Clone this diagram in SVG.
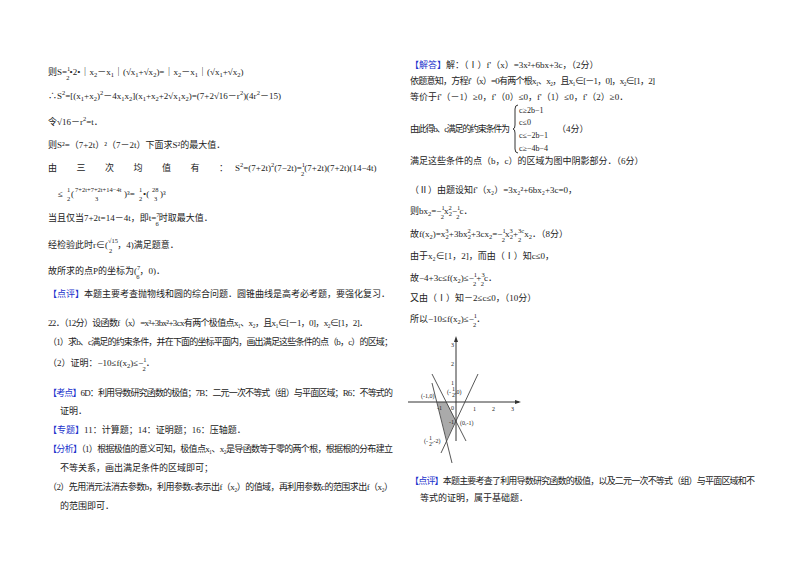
<svg xmlns="http://www.w3.org/2000/svg" width="800" height="565" viewBox="0 0 800 565">
<style>
text{font-family:"Liberation Serif","Noto Sans CJK SC",serif;font-size:9px;fill:#222}
.b{fill:#2233cc}
.s{font-size:6.5px}
.ax{stroke:#333;stroke-width:1;fill:none}
.ln{stroke:#444;stroke-width:0.9}
.g{font-size:6px}
.c{font-size:8px}
</style>
<rect width="800" height="565" fill="#fff"/>
<g id="left">
<text x="48" y="75">则S=<tspan class="s" dy="-4">1</tspan><tspan class="s" dx="-4" dy="9">2</tspan><tspan dy="-5">•2•｜x</tspan><tspan class="s" dy="2">2</tspan><tspan dy="-2">－x</tspan><tspan class="s" dy="2">1</tspan><tspan dy="-2">｜(√x</tspan><tspan class="s" dy="2">1</tspan><tspan dy="-2">+√x</tspan><tspan class="s" dy="2">2</tspan><tspan dy="-2">)=｜x</tspan><tspan class="s" dy="2">2</tspan><tspan dy="-2">－x</tspan><tspan class="s" dy="2">1</tspan><tspan dy="-2">｜(√x</tspan><tspan class="s" dy="2">1</tspan><tspan dy="-2">+√x</tspan><tspan class="s" dy="2">2</tspan><tspan dy="-2">)</tspan></text>
<text x="48" y="99">∴S<tspan class="s" dy="-4">2</tspan><tspan dy="4">=[(x</tspan><tspan class="s" dy="2">1</tspan><tspan dy="-2">+x</tspan><tspan class="s" dy="2">2</tspan><tspan dy="-2">)</tspan><tspan class="s" dy="-4">2</tspan><tspan dy="4">－4x</tspan><tspan class="s" dy="2">1</tspan><tspan dy="-2">x</tspan><tspan class="s" dy="2">2</tspan><tspan dy="-2">](x</tspan><tspan class="s" dy="2">1</tspan><tspan dy="-2">+x</tspan><tspan class="s" dy="2">2</tspan><tspan dy="-2">+2√x</tspan><tspan class="s" dy="2">1</tspan><tspan dy="-2">x</tspan><tspan class="s" dy="2">2</tspan><tspan dy="-2">)=(7+2√16－r</tspan><tspan class="s" dy="-4">2</tspan><tspan dy="4">)(4r</tspan><tspan class="s" dy="-4">2</tspan><tspan dy="4">－15)</tspan></text>
<text x="48" y="125">令√16－r<tspan class="s" dy="-4">2</tspan><tspan dy="4">=t．</tspan></text>
<text x="48" y="148">则S²=（7+2t）²（7－2t）下面求S²的最大值．</text>
<text x="48" y="171" textLength="180">由　三　次　均　值　有　：</text>
<text x="235" y="171">S<tspan class="s" dy="-4">2</tspan><tspan dy="4">=(7+2t)</tspan><tspan class="s" dy="-4">2</tspan><tspan dy="4">(7−2t)=</tspan><tspan class="s" dy="-4">1</tspan><tspan class="s" dx="-4" dy="9">2</tspan><tspan dy="-5">(7+2t)(7+2t)(14−4t)</tspan></text>
<text x="58" y="197">≤</text>
<text class="s" x="67" y="192">1</text><text class="s" x="67" y="201">2</text>
<text x="71" y="197">(</text>
<text class="s" x="75" y="192">7+2t+7+2t+14−4t</text><text class="s" x="95" y="201">3</text>
<text x="124" y="197">)³=</text>
<text class="s" x="139" y="192">1</text><text class="s" x="139" y="201">2</text>
<text x="143" y="197">•(</text>
<text class="s" x="152" y="192">28</text><text class="s" x="154" y="201">3</text>
<text x="160" y="197">)³</text>
<text x="48" y="221">当且仅当7+2t=14－4t，即t=<tspan class="s" dy="-4">7</tspan><tspan class="s" dx="-4" dy="9">6</tspan><tspan dy="-5">时取最大值．</tspan></text>
<text x="48" y="248">经检验此时r∈(<tspan class="s" dy="-5">√15</tspan><tspan class="s" dx="-9" dy="10">2</tspan><tspan dx="5" dy="-5">，4)满足题意．</tspan></text>
<text x="48" y="274">故所求的点P的坐标为(<tspan class="s" dy="-4">7</tspan><tspan class="s" dx="-4" dy="9">6</tspan><tspan dy="-5">，0)．</tspan></text>
<text x="48" y="297"><tspan class="b">【点评】</tspan>本题主要考查抛物线和圆的综合问题．圆锥曲线是高考必考题，要强化复习．</text>
<text x="48" y="326" textLength="320">22．（12分）设函数f（x）=x³+3bx²+3cx有两个极值点x₁、x₂，且x₁∈[－1，0]，x₂∈[1，2]．</text>
<text x="48" y="345" textLength="345">（1）求b、c满足的约束条件，并在下面的坐标平面内，画出满足这些条件的点（b，c）的区域；</text>
<text x="48" y="366">（2）证明：−10≤f(x<tspan class="s" dy="2">2</tspan><tspan dy="-2">)≤−</tspan><tspan class="s" dy="-4">1</tspan><tspan class="s" dx="-4" dy="9">2</tspan><tspan dy="-5">．</tspan></text>
<text x="48" y="396" textLength="345"><tspan class="b">【考点】</tspan>6D：利用导数研究函数的极值；7B：二元一次不等式（组）与平面区域；R6：不等式的</text>
<text x="60" y="414">证明．</text>
<text x="48" y="433"><tspan class="b">【专题】</tspan>11：计算题；14：证明题；16：压轴题．</text>
<text x="48" y="452" textLength="345"><tspan class="b">【分析】</tspan>（1）根据极值的意义可知，极值点x₁、x₂是导函数等于零的两个根，根据根的分布建立</text>
<text x="60" y="471">不等关系，画出满足条件的区域即可；</text>
<text x="48" y="490" textLength="345">（2）先用消元法消去参数b，利用参数c表示出f（x₂）的值域，再利用参数c的范围求出f（x₂）</text>
<text x="60" y="509">的范围即可．</text>
</g>
<g id="right">
<text x="410" y="68"><tspan class="b">【解答】</tspan>解：（Ⅰ）f'（x）=3x²+6bx+3c，（2分）</text>
<text x="410" y="84" textLength="245">依题意知，方程f'（x）=0有两个根x₁、x₂，且x₁∈[－1，0]，x₂∈[1，2]</text>
<text x="410" y="100">等价于f'（－1）≥0，f'（0）≤0，f'（1）≤0，f'（2）≥0．</text>
<path d="M518,105 Q515,105 515,109 V125 Q515,129 513,129 Q515,129 515,133 V149 Q515,153 518,153" class="ax"/>
<text x="519" y="113" class="c">c≥2b−1</text>
<text x="519" y="125" class="c">c≤0</text>
<text x="519" y="138" class="c">c≤−2b−1</text>
<text x="519" y="151" class="c">c≥−4b−4</text>
<text x="410" y="132" textLength="100">由此得b、c满足的约束条件为</text>
<text x="557" y="132">（4分）</text>
<text x="410" y="164">满足这些条件的点（b，c）的区域为图中阴影部分．（6分）</text>
<text x="410" y="193">（Ⅱ）由题设知f'（x₂）=3x₂²+6bx₂+3c=0，</text>
<text x="410" y="214">则bx<tspan class="s" dy="2">2</tspan><tspan dy="-2">=−</tspan><tspan class="s" dy="-4">1</tspan><tspan class="s" dx="-4" dy="9">2</tspan><tspan dy="-5">x</tspan><tspan class="s" dy="-4">2</tspan><tspan class="s" dx="-3" dy="6">2</tspan><tspan dy="-2">−</tspan><tspan class="s" dy="-4">1</tspan><tspan class="s" dx="-4" dy="9">2</tspan><tspan dy="-5">c．</tspan></text>
<text x="410" y="237">故f(x<tspan class="s" dy="2">2</tspan><tspan dy="-2">)=x</tspan><tspan class="s" dy="-4">3</tspan><tspan class="s" dx="-3" dy="6">2</tspan><tspan dy="-2">+3bx</tspan><tspan class="s" dy="-4">2</tspan><tspan class="s" dx="-3" dy="6">2</tspan><tspan dy="-2">+3cx</tspan><tspan class="s" dy="2">2</tspan><tspan dy="-2">=−</tspan><tspan class="s" dy="-4">1</tspan><tspan class="s" dx="-4" dy="9">2</tspan><tspan dy="-5">x</tspan><tspan class="s" dy="-4">3</tspan><tspan class="s" dx="-3" dy="6">2</tspan><tspan dy="-2">+</tspan><tspan class="s" dy="-4">3c</tspan><tspan class="s" dx="-6" dy="9">2</tspan><tspan dx="3" dy="-5">x</tspan><tspan class="s" dy="2">2</tspan><tspan dy="-2">．（8分）</tspan></text>
<text x="410" y="259">由于x₂∈[1，2]，而由（Ⅰ）知c≤0，</text>
<text x="410" y="281">故−4+3c≤f(x<tspan class="s" dy="2">2</tspan><tspan dy="-2">)≤−</tspan><tspan class="s" dy="-4">1</tspan><tspan class="s" dx="-4" dy="9">2</tspan><tspan dy="-5">+</tspan><tspan class="s" dy="-4">3</tspan><tspan class="s" dx="-4" dy="9">2</tspan><tspan dy="-5">c．</tspan></text>
<text x="410" y="301">又由（Ⅰ）知－2≤c≤0，（10分）</text>
<text x="410" y="322">所以−10≤f(x<tspan class="s" dy="2">2</tspan><tspan dy="-2">)≤−</tspan><tspan class="s" dy="-4">1</tspan><tspan class="s" dx="-4" dy="9">2</tspan><tspan dy="-5">．</tspan></text>
<text x="410" y="484" textLength="345"><tspan class="b">【点评】</tspan>本题主要考查了利用导数研究函数的极值，以及二元一次不等式（组）与平面区域和不</text>
<text x="420" y="501">等式的证明，属于基础题．</text>
</g>
<g id="graph">
<polygon points="437,402 446.5,402 456,421 446.5,440" fill="#aaa"/>
<line class="ax" x1="408" y1="402" x2="519" y2="402"/>
<line class="ax" x1="456" y1="441" x2="456" y2="339"/>
<polygon points="456,336 454,342 458,342" fill="#333"/>
<polygon points="521,402 515,400 515,404" fill="#333"/>
<line class="ln" x1="441" y1="453" x2="478" y2="374"/>
<line class="ln" x1="432" y1="374" x2="466" y2="441"/>
<line class="ln" x1="432" y1="383" x2="452" y2="463"/>
<text class="g" x="473" y="411">1</text><text class="g" x="492" y="411">2</text><text class="g" x="511" y="411">3</text>
<text class="g" x="451" y="385">1</text><text class="g" x="451" y="366">2</text><text class="g" x="451" y="347">3</text>
<text class="g" x="451" y="410">0</text><text class="g" x="437" y="410">-1</text>
<text class="g" x="449" y="424">-1</text>
<text class="g" x="421" y="398">(-1,0)</text>
<text class="g" x="447" y="394">(-</text><text class="g" x="452" y="391">1</text><text class="g" x="452" y="397">2</text><text class="g" x="455" y="394">,0)</text>
<text class="g" x="460" y="425">(0,-1)</text>
<text class="g" x="424" y="443">(-</text><text class="g" x="429" y="440">1</text><text class="g" x="429" y="446">2</text><text class="g" x="432" y="443">,-2)</text>
</g>
</svg>
